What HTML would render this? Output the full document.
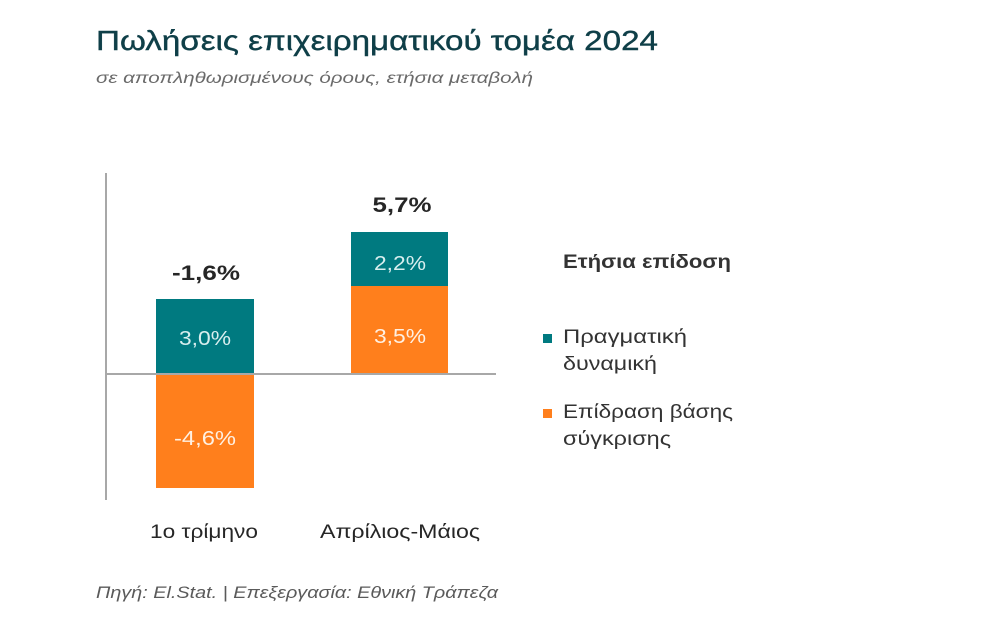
<!DOCTYPE html>
<html>
<head>
<meta charset="utf-8">
<style>
  html, body { margin: 0; padding: 0; background: #ffffff; }
  svg { display: block; }
  text { font-family: "Liberation Sans", "DejaVu Sans", sans-serif; }
</style>
</head>
<body>
<svg width="1000" height="630" viewBox="0 0 1000 630" xmlns="http://www.w3.org/2000/svg">
  <rect x="0" y="0" width="1000" height="630" fill="#ffffff"/>

  <!-- Title -->
  <text x="96" y="50" font-size="28" fill="#0f3f48" stroke="#0f3f48" stroke-width="0.4" textLength="562" lengthAdjust="spacingAndGlyphs">Πωλήσεις επιχειρηματικού τομέα 2024</text>
  <!-- Subtitle -->
  <text x="96" y="83" font-size="16" font-style="italic" fill="#6a6a6a" textLength="437" lengthAdjust="spacingAndGlyphs">σε αποπληθωρισμένους όρους, ετήσια μεταβολή</text>

  <!-- Bars -->
  <rect x="156" y="299" width="98" height="74" fill="#007a80"/>
  <rect x="156" y="375" width="98" height="113" fill="#ff7f1c"/>
  <rect x="351" y="232" width="97" height="54" fill="#007a80"/>
  <rect x="351" y="286" width="97" height="87" fill="#ff7f1c"/>

  <!-- Axes -->
  <line x1="106" y1="173" x2="106" y2="500" stroke="#a8a8a8" stroke-width="2"/>
  <line x1="106" y1="374" x2="496" y2="374" stroke="#a8a8a8" stroke-width="2"/>

  <!-- Bar labels -->
  <text x="206" y="280" font-size="21" font-weight="bold" fill="#262626" text-anchor="middle" textLength="68" lengthAdjust="spacingAndGlyphs">-1,6%</text>
  <text x="402" y="212" font-size="21" font-weight="bold" fill="#262626" text-anchor="middle" textLength="59" lengthAdjust="spacingAndGlyphs">5,7%</text>
  <text x="205" y="345" font-size="20" fill="#d8eeee" text-anchor="middle" textLength="52" lengthAdjust="spacingAndGlyphs">3,0%</text>
  <text x="400" y="270" font-size="20" fill="#d8eeee" text-anchor="middle" textLength="52" lengthAdjust="spacingAndGlyphs">2,2%</text>
  <text x="400" y="343" font-size="20" fill="#fff0e2" text-anchor="middle" textLength="52" lengthAdjust="spacingAndGlyphs">3,5%</text>
  <text x="205" y="445" font-size="20" fill="#fff0e2" text-anchor="middle" textLength="62" lengthAdjust="spacingAndGlyphs">-4,6%</text>

  <!-- Category labels -->
  <text x="150" y="538" font-size="19" fill="#262626" textLength="108" lengthAdjust="spacingAndGlyphs">1ο τρίμηνο</text>
  <text x="320" y="538" font-size="19" fill="#262626" textLength="160" lengthAdjust="spacingAndGlyphs">Απρίλιος-Μάιος</text>

  <!-- Legend -->
  <text x="563" y="268" font-size="19" font-weight="bold" fill="#333333" textLength="168" lengthAdjust="spacingAndGlyphs">Ετήσια επίδοση</text>
  <rect x="543" y="334" width="9" height="9" fill="#007a80"/>
  <text x="563" y="343" font-size="19" fill="#333333" textLength="124" lengthAdjust="spacingAndGlyphs">Πραγματική</text>
  <text x="563" y="370" font-size="19" fill="#333333" textLength="94" lengthAdjust="spacingAndGlyphs">δυναμική</text>
  <rect x="543" y="409" width="9" height="9" fill="#ff7f1c"/>
  <text x="563" y="418" font-size="19" fill="#333333" textLength="170" lengthAdjust="spacingAndGlyphs">Επίδραση βάσης</text>
  <text x="563" y="445" font-size="19" fill="#333333" textLength="108" lengthAdjust="spacingAndGlyphs">σύγκρισης</text>

  <!-- Footer -->
  <text x="96" y="598" font-size="17" font-style="italic" fill="#5a5a5a" textLength="402" lengthAdjust="spacingAndGlyphs">Πηγή: El.Stat. | Επεξεργασία: Εθνική Τράπεζα</text>
</svg>
</body>
</html>
